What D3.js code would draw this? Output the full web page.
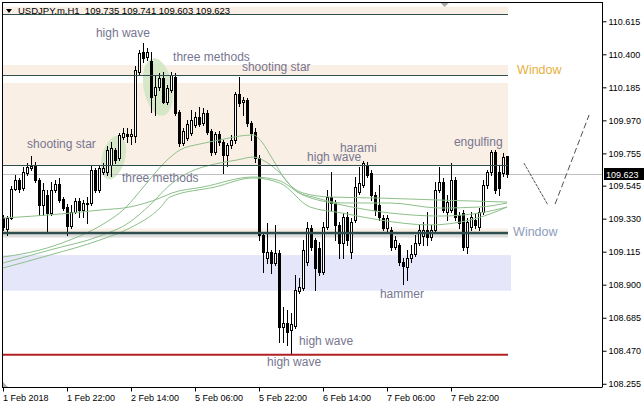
<!DOCTYPE html>
<html><head><meta charset="utf-8">
<script src="https://cdn.jsdelivr.net/npm/d3@7"></script>
<style>body{margin:0;background:#fff;}svg{display:block;}text{font-family:"Liberation Sans",Arial,sans-serif;}</style>
</head><body><svg id="c" width="644" height="407"></svg>
<script>
// ---- data (USDJPY.m, H1, bars from 1 Feb 2018 06:00) ----
const barOpen=[
109.334,109.263,109.334,109.523,109.582,109.530,109.627,109.660,109.673,109.582,
109.419,109.484,109.367,109.517,109.556,109.458,109.406,109.282,109.373,109.445,
109.386,109.432,109.432,109.647,109.517,109.634,109.634,109.679,109.777,109.725,
109.862,109.881,109.868,109.868,110.285,110.415,110.382,110.356,110.135,110.187,
110.246,110.089,110.168,110.252,110.024,109.823,109.855,109.888,109.940,109.992,
109.953,110.018,109.901,109.764,109.881,109.829,109.744,109.810,109.842,110.142,
110.089,110.103,109.953,109.894,109.725,109.224,109.074,109.113,109.041,109.106,
108.625,108.651,108.605,108.631,108.859,108.879,109.048,109.269,109.191,109.139,
108.983,109.276,109.471,109.432,109.289,109.172,109.341,109.113,109.321,109.504,
109.549,109.679,109.627,109.484,109.419,109.334,109.269,109.256,109.145,109.158,
109.048,109.015,109.074,109.100,109.172,109.217,109.256,109.211,109.256,109.517,
109.569,109.373,109.386,109.582,109.354,109.367,109.145,109.276,109.321,109.276,
109.373,109.549,109.634,109.764,109.634,109.627,109.735];
const barHigh=[
109.354,109.347,109.543,109.614,109.595,109.666,109.692,109.738,109.699,109.595,
109.562,109.517,109.569,109.582,109.595,109.471,109.425,109.419,109.464,109.464,
109.451,109.471,109.679,109.660,109.679,109.692,109.803,109.829,109.790,109.888,
109.920,109.920,109.914,110.324,110.428,110.474,110.441,110.415,110.265,110.278,
110.285,110.200,110.285,110.278,110.037,109.920,109.972,110.037,110.024,110.057,
110.050,110.037,109.914,109.894,109.901,109.842,109.823,109.875,110.155,110.252,
110.122,110.116,109.966,109.920,109.744,109.243,109.302,109.126,109.289,109.126,
108.755,108.735,108.716,108.963,108.944,109.191,109.308,109.289,109.204,109.178,
109.308,109.517,109.634,109.451,109.308,109.367,109.373,109.334,109.601,109.666,
109.705,109.699,109.647,109.504,109.549,109.354,109.354,109.276,109.217,109.172,
109.074,109.126,109.158,109.224,109.289,109.308,109.373,109.289,109.569,109.666,
109.595,109.484,109.692,109.601,109.373,109.386,109.334,109.373,109.367,109.399,
109.582,109.647,109.777,109.777,109.679,109.757,109.741];
const barLow=[
109.256,109.224,109.328,109.517,109.504,109.517,109.614,109.647,109.569,109.354,
109.354,109.237,109.354,109.504,109.438,109.386,109.224,109.269,109.367,109.341,
109.341,109.302,109.419,109.504,109.504,109.621,109.614,109.608,109.692,109.712,
109.849,109.829,109.816,109.829,110.265,110.350,110.363,110.024,110.005,110.168,
110.083,110.076,110.155,110.005,109.803,109.810,109.842,109.875,109.927,109.933,
109.940,109.881,109.744,109.751,109.810,109.627,109.673,109.790,109.823,110.063,
110.005,109.933,109.842,109.699,109.191,108.983,109.041,108.976,109.028,108.527,
108.527,108.507,108.449,108.618,108.846,108.866,109.028,109.126,108.866,108.963,
108.970,109.263,109.386,109.191,109.074,109.074,109.158,109.074,109.308,109.491,
109.536,109.601,109.451,109.354,109.321,109.256,109.243,109.126,109.132,109.028,
108.905,108.931,109.048,109.087,109.158,109.158,109.158,109.191,109.237,109.504,
109.373,109.321,109.373,109.321,109.269,109.126,109.106,109.256,109.269,109.256,
109.360,109.530,109.614,109.497,109.484,109.608,109.603];
const barClose=[
109.276,109.334,109.523,109.582,109.523,109.634,109.666,109.673,109.582,109.419,
109.517,109.367,109.517,109.556,109.451,109.399,109.282,109.373,109.445,109.386,
109.432,109.425,109.647,109.517,109.660,109.660,109.777,109.790,109.712,109.875,
109.888,109.868,109.881,110.298,110.408,110.376,110.415,110.122,110.187,110.246,
110.089,110.181,110.265,110.018,109.823,109.901,109.946,109.972,109.992,109.946,
110.018,109.894,109.764,109.881,109.829,109.744,109.810,109.842,110.142,110.083,
110.103,109.953,109.888,109.725,109.224,109.113,109.113,109.041,109.106,108.625,
108.651,108.592,108.644,108.866,108.885,109.126,109.269,109.145,109.009,108.983,
109.276,109.471,109.432,109.289,109.172,109.341,109.191,109.308,109.536,109.562,
109.692,109.614,109.484,109.386,109.341,109.269,109.334,109.145,109.191,109.048,
109.022,109.074,109.100,109.172,109.256,109.256,109.211,109.256,109.517,109.569,
109.386,109.438,109.582,109.341,109.302,109.145,109.308,109.341,109.289,109.373,
109.549,109.634,109.764,109.517,109.530,109.731,109.623];

// moving averages, read at sampled bar positions
const maA_idx=[-0.1,9.1,16.6,24.1,30.4,35.4,40.4,44.1,49.1,54.1,59.1,62.4,64.6,67.1,70.9,74.9,81.6,94.1,109.1,125.9];
const maA_val=[109.080,109.126,109.191,109.282,109.399,109.549,109.699,109.777,109.816,109.842,109.868,109.875,109.829,109.725,109.569,109.497,109.471,109.464,109.451,109.438];
const maB_idx=[-0.1,11.6,24.1,31.6,36.6,41.6,46.6,52.9,58.4,62.4,66.1,69.1,73.4,77.4,84.6,96.6,109.1,119.1,125.9];
const maB_val=[109.041,109.126,109.217,109.308,109.419,109.549,109.634,109.686,109.712,109.731,109.692,109.627,109.504,109.471,109.432,109.432,109.399,109.406,109.432];
const maC_idx=[-0.1,14.1,24.1,31.6,39.1,42.1,49.9,62.4,68.4,74.9,84.6,96.6,109.1,119.1,125.9];
const maC_val=[109.334,109.360,109.386,109.406,109.464,109.497,109.536,109.601,109.582,109.484,109.419,109.367,109.347,109.367,109.406];
const maD_idx=[-0.1,11.6,24.1,31.6,39.1,41.6,52.9,62.4,69.1,76.6,84.6,94.1,106.6,116.6,121.6,125.9];
const maD_val=[109.009,109.093,109.191,109.269,109.399,109.471,109.536,109.595,109.562,109.406,109.367,109.321,109.289,109.321,109.360,109.406];

const xTickBars=[0,16,32,48,64,80,96,112];
const xTickLabels=["1 Feb 2018","1 Feb 22:00","2 Feb 14:00","5 Feb 06:00","5 Feb 22:00","6 Feb 14:00","7 Feb 06:00","7 Feb 22:00"];
const yTickValues=[110.615,110.400,110.185,109.970,109.755,109.545,109.330,109.115,108.900,108.685,108.470,108.255];

const lastPrice=109.623;
const headerText="USDJPY.m,H1  109.735 109.741 109.603 109.623";

// zones and horizontal levels (prices), extents in bars
const zonePeach=[[110.710,110.660],[110.330,110.263],[110.213,109.679],[109.266,109.237]];
const zoneGrey=[109.230,109.207];
const zoneLavender=[109.093,108.861];
const levelsThin=[110.660,110.263,109.679];
const levelThick=109.237;
const levelRed=108.444;

// pattern annotations: [text, bar index, price]
const labels=[
 ["high wave",23.1,110.513],["three methods",42.4,110.356],["shooting star",59.6,110.291],
 ["shooting star",5.9,109.790],["three methods",29.6,109.569],["high wave",75.9,109.705],
 ["harami",84.1,109.764],["engulfing",112.6,109.803],["hammer",94.1,108.813],
 ["high wave",73.9,108.507],["high wave",65.9,108.371]];
const windowLabels=[["Window",128.4,110.272,"#E8B040"],["Window",127.4,109.217,"#8E9CBC"]];
// ellipses: [bar index, price, rx bars, ry price, rotation]
const ellipses=[[27.5,109.728,2.9,0.146,15],[38.6,110.187,3.6,0.189,-10]];
// projection lines: [bar0, p0, bar1, p1, dash]
const projections=[[130.1,109.692,136.1,109.419,"3,1"],[137.9,109.425,146.4,110.005,"6,3"]];

// ---- drawing ----
const svg=d3.select("#c");
const x=d3.scaleLinear().domain([0,150]).range([3.5,603.5]);
const y=d3.scaleLinear().domain([108.234,110.734]).range([387,3]);
const lastBar=barOpen.length-1;
const zx0=x(-0.2), zx1=x(lastBar)+0.5;

const bg=svg.append("g");
zonePeach.forEach(z=>bg.append("rect").attr("x",zx0).attr("width",zx1-zx0)
  .attr("y",y(z[0])).attr("height",y(z[1])-y(z[0])).attr("fill","#FAEFE5"));
bg.append("rect").attr("x",zx0).attr("width",zx1-zx0).attr("y",y(zoneGrey[0])).attr("height",y(zoneGrey[1])-y(zoneGrey[0])).attr("fill","#DEDEDE");
bg.append("rect").attr("x",zx0).attr("width",x(lastBar+0.9)-zx0).attr("y",y(zoneLavender[0])).attr("height",y(zoneLavender[1])-y(zoneLavender[0])).attr("fill","#E6E6FA");

// ellipses
ellipses.forEach(e=>{
  const cx=x(e[0]), cy=y(e[1]);
  bg.append("ellipse").attr("cx",cx).attr("cy",cy).attr("rx",x(e[2])-x(0)).attr("ry",y(0)-y(e[3]))
   .attr("transform",`rotate(${e[4]},${cx},${cy})`).attr("fill","#CFE5C2").attr("opacity",0.85);
});

// current price line
bg.append("line").attr("x1",3).attr("x2",602).attr("y1",Math.round(y(lastPrice))+0.5).attr("y2",Math.round(y(lastPrice))+0.5)
  .attr("stroke","#C0C0C0").attr("stroke-width",1);

// candles
const bars=d3.range(barOpen.length).map(i=>({i,o:barOpen[i],h:barHigh[i],l:barLow[i],c:barClose[i]}));
const cg=svg.append("g");
bars.forEach(d=>{
  const cx=Math.floor(x(d.i))+0.5;
  cg.append("line").attr("x1",cx).attr("x2",cx).attr("y1",Math.round(y(d.h))).attr("y2",Math.round(y(d.l))+1)
    .attr("stroke","#000").attr("stroke-width",1);
  const top=Math.round(y(Math.max(d.o,d.c))), bot=Math.round(y(Math.min(d.o,d.c)));
  const up=d.c>=d.o;
  cg.append("rect").attr("x",cx-1).attr("y",top+0.5).attr("width",2).attr("height",Math.max(bot-top,0.01))
    .attr("fill",up?"#fff":"#000").attr("stroke","#000").attr("stroke-width",1);
});

// moving averages
const maLine=d3.line().x(d=>x(d[0])).y(d=>y(d[1])).curve(d3.curveMonotoneX);
[[maA_idx,maA_val],[maB_idx,maB_val],[maC_idx,maC_val],[maD_idx,maD_val]].forEach(m=>{
  svg.append("path").attr("d",maLine(m[0].map((v,k)=>[v,m[1][k]]))).attr("fill","none")
    .attr("stroke","#8CC08A").attr("stroke-width",1);
});

// levels
levelsThin.forEach(p=>svg.append("line").attr("x1",zx0).attr("x2",zx1).attr("y1",Math.round(y(p))+0.5).attr("y2",Math.round(y(p))+0.5)
  .attr("stroke","#2F4F4F").attr("stroke-width",1));
svg.append("line").attr("x1",zx0).attr("x2",zx1).attr("y1",y(levelThick)).attr("y2",y(levelThick)).attr("stroke","#2F4F4F").attr("stroke-width",2.6);
svg.append("line").attr("x1",zx0).attr("x2",zx1).attr("y1",y(levelRed)).attr("y2",y(levelRed)).attr("stroke","#B22222").attr("stroke-width",2);

// projections
projections.forEach(p=>svg.append("line").attr("x1",x(p[0])).attr("y1",y(p[1])).attr("x2",x(p[2])).attr("y2",y(p[3]))
  .attr("stroke","#505050").attr("stroke-width",1).attr("stroke-dasharray",p[4]));

// labels
labels.forEach(l=>svg.append("text").attr("x",x(l[1])).attr("y",y(l[2])).text(l[0])
  .attr("font-size",12).attr("fill","#767690"));
windowLabels.forEach(l=>svg.append("text").attr("x",x(l[1])).attr("y",y(l[2])).text(l[0])
  .attr("font-size",12.5).attr("fill",l[3]));

// frame
const fr=svg.append("g").attr("stroke","#000").attr("stroke-width",1);
fr.append("line").attr("x1",2.5).attr("x2",2.5).attr("y1",2).attr("y2",388);
fr.append("line").attr("x1",2).attr("x2",603).attr("y1",2.5).attr("y2",2.5);

// axes
const yAxis=d3.axisRight(y).tickValues(yTickValues).tickSize(4).tickPadding(2).tickFormat(d3.format(".3f"));
const ya=svg.append("g").attr("transform","translate(602.5,0)").call(yAxis);
const xAxis=d3.axisBottom(x).tickValues(xTickBars).tickSize(4).tickPadding(3).tickFormat((d,k)=>xTickLabels[k]);
const xa=svg.append("g").attr("transform","translate(0,387.5)").call(xAxis);
[ya,xa].forEach(a=>{a.select(".domain").attr("stroke","#000");a.selectAll(".tick line").attr("stroke","#000");
  a.selectAll("text").attr("font-family","Liberation Sans, Arial, sans-serif").attr("font-size",9).attr("fill","#000");});
ya.select(".domain").attr("d","M0,2V387");
xa.select(".domain").attr("d","M2,0H602.5");
xa.selectAll(".tick line").attr("transform","translate(-0.5,0)");
xa.selectAll(".tick text").attr("text-anchor","start").attr("x",-1);

// price tag
const py=y(lastPrice);
svg.append("rect").attr("x",604).attr("y",Math.round(py)-6).attr("width",40).attr("height",12).attr("fill","#000");
svg.append("text").attr("x",606).attr("y",Math.round(py)+3.5).text(d3.format(".3f")(lastPrice))
  .attr("font-size",9).attr("fill","#fff");

// header
svg.append("path").attr("d",`M6,9 L12,9 L9,13 Z`).attr("fill","#000");
svg.append("text").attr("x",18).attr("y",14).text(headerText).attr("font-size",9.5).attr("fill","#000").style("white-space","pre").attr("xml:space","preserve");
// top marker and corner marker
svg.append("path").attr("d",`M${x(109.3)},3 L${x(111.3)},3 L${x(110.3)},7 Z`).attr("fill","#A8A8A8");
svg.append("path").attr("d","M3,382 L8,387 L3,387 Z").attr("fill","#B0B0B0");
</script></body></html>
